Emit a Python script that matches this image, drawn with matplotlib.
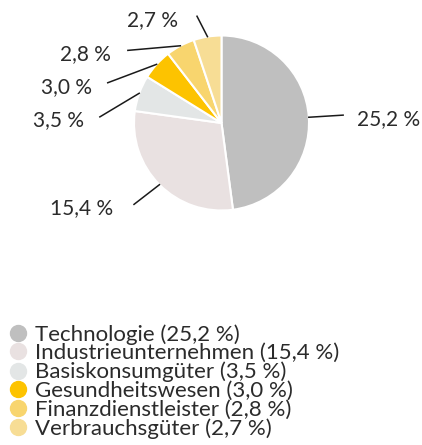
import matplotlib
matplotlib.use("Agg")
import matplotlib.pyplot as plt
from matplotlib.lines import Line2D
import numpy as np

sectors = ["Technologie", "Industrieunternehmen", "Basiskonsumgüter",
           "Gesundheitswesen", "Finanzdienstleister", "Verbrauchsgüter"]
weights = [25.2, 15.4, 3.5, 3.0, 2.8, 2.7]
colors = ["#bfbfbf", "#e9e1e1", "#e3e6e6", "#fdc300", "#f8d56e", "#f7dd95"]

# label layout (pie radius = 1): leader line end, text anchor, alignment
line_ends = [(1.39, 0.09), (-1.0, -0.93), (-1.39, 0.07),
             (-1.30, 0.46), (-1.07, 0.83), (-0.28, 1.22)]
text_pos = [(1.55, 0.04), (-1.24, -0.97), (-1.57, 0.03),
            (-1.48, 0.41), (-1.27, 0.79), (-0.50, 1.18)]
text_ha = ["left", "right", "right", "right", "right", "right"]

plt.rcParams['font.family'] = ['Lato', 'DejaVu Sans']
txt_color = "#2b2b2b"

W, H = 422, 445
cx, cy, R = 221.5, 123, 87.5
fig = plt.figure(figsize=(W / 100, H / 100), dpi=100)
ax = fig.add_axes([0, 0, 1, 1])

wedges, _ = ax.pie(weights, colors=colors, startangle=90, counterclock=False,
                   radius=1.0, wedgeprops=dict(edgecolor="white", linewidth=1.5))

for w, v, end, tp, ha in zip(wedges, weights, line_ends, text_pos, text_ha):
    ang = np.deg2rad((w.theta1 + w.theta2) / 2)
    x0, y0 = np.cos(ang) * 1.0, np.sin(ang) * 1.0
    ax.plot([x0, end[0]], [y0, end[1]], color="#1a1a1a", lw=1.1)
    ax.text(tp[0], tp[1], f"{v:.1f} %".replace(".", ","), ha=ha, va="center",
            fontsize=15, color=txt_color)

ax.set_xlim(-cx / R, (W - cx) / R)
ax.set_ylim(-(H - cy) / R, cy / R)
ax.set_aspect('equal')
ax.axis('off')

handles = [Line2D([], [], marker="o", linestyle="none", markersize=11.5,
                  markerfacecolor=c, markeredgecolor=c) for c in colors]
labels = [f"{s} ({v:.1f} %)".replace(".", ",") for s, v in zip(sectors, weights)]
fig.legend(handles, labels, loc="upper left", bbox_to_anchor=(0.02, 0.272),
           frameon=False, fontsize=16, labelspacing=-0.06, handletextpad=0.3,
           handlelength=0.9, borderaxespad=0.0, borderpad=0.0,
           labelcolor=txt_color)

fig.savefig("out.png", dpi=100)
